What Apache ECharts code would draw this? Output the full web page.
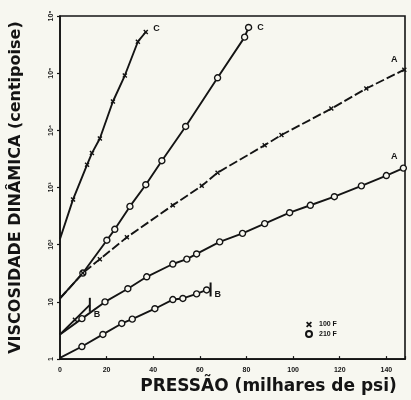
<!DOCTYPE html>
<html><head><meta charset="utf-8">
<script src="https://cdn.jsdelivr.net/npm/echarts@6/dist/echarts.min.js"></script>
<style>html,body{margin:0;padding:0;background:#f7f7f0}#c{width:411px;height:400px}</style>
</head><body><div id="c"></div>
<script>
// Pressure (thousands of psi) vs dynamic viscosity (centipoise)
const curveC100 = [[0,126],[5.6,620],[11.6,2500],[13.7,4000],[17.1,7200],[22.7,32000],[27.8,91000],[33.4,355000],[36.8,525000]];
const curveC210 = [[0,11.5],[9.8,32],[20.1,120],[23.5,186],[30,468],[36.8,1120],[43.7,2950],[53.9,11700],[67.6,83000],[79.2,427000],[80.9,630000]];
const curveA100 = [[0,11.5],[9.8,32],[17.1,56],[28.7,135],[48.4,490],[60.8,1070],[67.6,1820],[87.8,5500],[95,8300],[116.4,24000],[131.4,54000],[147.7,115000]];
const curveA210 = [[0,2.7],[9.4,5.1],[19.3,10],[29.1,17],[37.2,27.5],[48.4,46],[54.4,56],[58.6,69],[68.5,112],[78.3,158],[87.8,234],[98.5,363],[107.4,490],[117.7,692],[129.3,1070],[140,1620],[147.3,2190]];
const curveB100 = [[0,2.7],[6.4,4.9],[12.8,8.9]];
const curveB210 = [[0,1.05],[9.4,1.66],[18.4,2.7],[26.5,4.2],[31,5.0],[40.7,7.6],[48.4,11],[52.7,11.5],[58.6,13.8],[62.9,16.2],[64.6,16.5]];
const legendNames = ['100 F','210 F'];
const yTickLabels = {1:'1',10:'10',100:'10²',1000:'10³',10000:'10⁴',100000:'10⁵',1000000:'10⁶'};

const INK = '#141414', BG = '#f7f7f0';
const crossPath = 'path://M2,0L5,3L8,0L10,2L7,5L10,8L8,10L5,7L2,10L0,8L3,5L0,2Z';
const lblStyle = {fontSize: 9, fontWeight: 'bold', color: INK, fontFamily: 'Liberation Sans'};

function mk(name, pts, hot, letter, lpos, loff, endMark, dash) {
  const data = pts.map((p, i) => {
    const d = {value: p};
    if (i === 0) d.symbol = 'none';
    if (i === pts.length - 1) {
      if (endMark) { d.symbol = 'rect'; d.symbolSize = [2, 14]; d.itemStyle = {color: INK, borderWidth: 0}; }
      d.label = Object.assign({show: true, formatter: letter, position: lpos, offset: loff}, lblStyle);
    }
    return d;
  });
  return {
    type: 'line', name: name, data: data, smooth: false, silent: true, animation: false,
    symbol: hot ? 'circle' : crossPath,
    symbolSize: hot ? 6 : 5,
    itemStyle: hot ? {color: BG, borderColor: INK, borderWidth: 1.4} : {color: INK, borderWidth: 0},
    lineStyle: {color: INK, width: 1.9, type: dash ? [9, 3] : 'solid'},
    z: 3
  };
}

const chart = echarts.init(document.getElementById('c'));
chart.setOption({
  backgroundColor: BG,
  animation: false,
  grid: {left: 59, right: 6, top: 16, bottom: 37, show: true, borderColor: INK, borderWidth: 1.6, backgroundColor: 'transparent'},
  legend: {
    left: 300, top: 316, orient: 'vertical', itemGap: 2, itemWidth: 6, itemHeight: 6,
    textStyle: {fontSize: 7, fontWeight: 'bold', color: INK, fontFamily: 'Liberation Sans', padding: [0,0,0,2]},
    data: [{name: legendNames[0], icon: crossPath}, {name: legendNames[1], icon: 'circle'}],
    selectedMode: false
  },
  xAxis: {
    type: 'value', min: 0, max: 148, interval: 20,
    name: 'PRESSÃO (milhares de psi)', nameLocation: 'middle', nameGap: 17,
    nameTextStyle: {fontSize: 17, fontWeight: 'bold', color: INK, fontFamily: 'DejaVu Sans', padding: [0,0,0,72]},
    axisLine: {lineStyle: {color: INK, width: 1.6}},
    axisTick: {inside: true, length: 3, lineStyle: {color: INK, width: 1.2}},
    axisLabel: {fontSize: 7, fontWeight: 'bold', color: INK, margin: 7, fontFamily: 'Liberation Sans',
      formatter: v => (v % 20 === 0 ? String(v) : '')},
    splitLine: {show: false}
  },
  yAxis: {
    type: 'log', logBase: 10, min: 1, max: 1000000,
    name: 'VISCOSIDADE DINÂMICA (centipoise)', nameLocation: 'middle', nameGap: 36,
    nameTextStyle: {fontSize: 16, fontWeight: 'bold', color: INK, fontFamily: 'DejaVu Sans', padding: [0,0,0,0]},
    axisLine: {lineStyle: {color: INK, width: 1.6}},
    axisTick: {inside: false, length: 3, lineStyle: {color: INK, width: 1.2}},
    axisLabel: {fontSize: 7, fontWeight: 'bold', color: INK, margin: 5, rotate: 90, fontFamily: 'Liberation Sans',
      formatter: v => yTickLabels[Math.round(v)] || ''},
    splitLine: {show: false}
  },
  series: [
    mk(legendNames[0], curveC100, false, 'C', 'right', [0, -3], false, false),
    mk(legendNames[1], curveC210, true, 'C', 'right', [0, 0], false, false),
    mk(legendNames[0], curveA100, false, 'A', 'top', [-10, 2], false, true),
    mk(legendNames[1], curveA210, true, 'A', 'top', [-9, 2], false, false),
    mk(legendNames[0], curveB100, false, 'B', 'right', [-2, 10], true, false),
    mk(legendNames[1], curveB210, true, 'B', 'right', [-2, 5], true, false)
  ]
});
</script></body></html>
